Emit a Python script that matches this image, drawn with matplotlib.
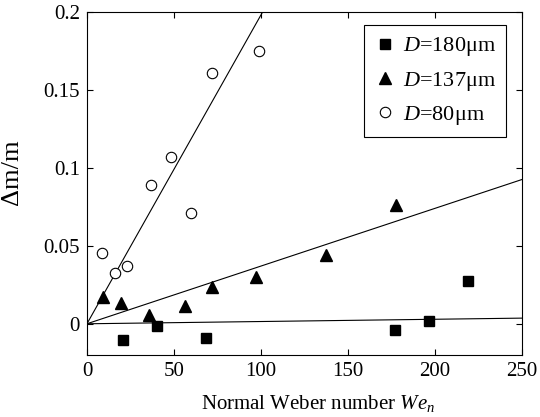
import matplotlib
matplotlib.use("Agg")
import matplotlib.pyplot as plt
import numpy as np

plt.rcParams['font.family'] = ['Liberation Serif', 'DejaVu Serif']
plt.rcParams['mathtext.fontset'] = 'custom'
plt.rcParams['mathtext.rm'] = 'Liberation Serif'
plt.rcParams['mathtext.it'] = 'Liberation Serif:italic'

# D = 180 um (squares)
we_180 = [20.7, 40.2, 68.4, 177.0, 196.6, 219.0]
dm_180 = [-0.0101, -0.0017, -0.0094, -0.0043, 0.0015, 0.0272]
# D = 137 um (triangles)
we_137 = [9.4, 19.5, 35.6, 56.3, 71.7, 97.0, 137.5, 177.4]
dm_137 = [0.0171, 0.0135, 0.0058, 0.0113, 0.0235, 0.0302, 0.0438, 0.0759]
# D = 80 um (circles)
we_80 = [8.8, 16.1, 23.0, 36.8, 48.1, 59.8, 71.7, 98.9]
dm_80 = [0.0456, 0.0327, 0.0372, 0.0888, 0.1069, 0.0712, 0.1608, 0.175]

# fitted slopes of the lines through the origin
slope_180 = 0.0000145
slope_137 = 0.00037
slope_80 = 0.00198

labels = [r'$D$=180μm', r'$D$=137μm', r'$D$=80μm']

fig = plt.figure(figsize=(5.4, 4.17), dpi=100)
ax = fig.add_axes([0.161, 0.1487, 0.806, 0.8233])

xl = np.array([0, 250])
for s in (slope_180, slope_137, slope_80):
    ax.plot(xl, s * xl, color='black', lw=0.8)

ax.plot(we_180, dm_180, 's', color='black', ms=7, label=labels[0], ls='none')
ax.plot(we_137, dm_137, '^', color='black', ms=8, label=labels[1], ls='none')
ax.plot(we_80, dm_80, 'o', mfc='white', mec='black', mew=0.8, ms=7.5, label=labels[2], ls='none')

ax.set_xlim(0, 250)
ax.set_ylim(-0.02, 0.2)
ax.set_xticks([0, 50, 100, 150, 200, 250])
ax.set_yticks([0, 0.05, 0.1, 0.15, 0.2])
ax.set_yticklabels(['0', '0.05', '0.1', '0.15', '0.2'])
ax.tick_params(direction='in', top=True, right=True, labelsize=15, length=4, width=0.8, pad=5)
for sp in ax.spines.values():
    sp.set_linewidth(0.8)

ax.set_xlabel(r'Normal Weber number $We_n$', fontsize=15)
ax.xaxis.set_label_coords(0.531, -0.11)
ax.set_ylabel('Δm/m', fontsize=19)
ax.yaxis.set_label_coords(-0.148, 0.533)

leg = ax.legend(loc='upper right', bbox_to_anchor=(0.9635, 0.96), fontsize=16,
                frameon=True, fancybox=False, edgecolor='black', handletextpad=0.3,
                handlelength=1.0, borderpad=0.45, labelspacing=0.5, borderaxespad=0)
leg.get_frame().set_linewidth(0.8)
leg.get_frame().set_alpha(1)

fig.savefig('out.png', dpi=100)
